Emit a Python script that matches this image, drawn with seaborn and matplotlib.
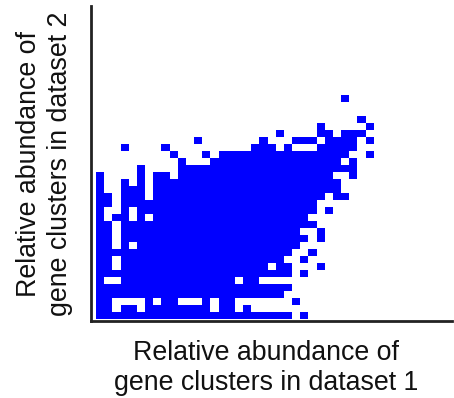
import numpy as np
import matplotlib
matplotlib.use("Agg")
import matplotlib.pyplot as plt
from matplotlib.colors import ListedColormap
import seaborn as sns

# Occupied bins of the 2-D abundance histogram, top row first ('#' = occupied).
rows = [
    ".........." ".........." ".........." "#...",
    ".........." ".........." ".........." "....",
    ".........." ".........." ".........." "....",
    ".........." ".........." ".........." "..#.",
    ".........." ".........." ".......#.." "...#",
    ".........." ".........." "..#....##." "###.",
    ".........." "..#......." "#...###.##" "##.#",
    "...#....#." ".........#" "##.#...###" "##..",
    ".........#" "...#.#####" "##########" "#..#",
    ".........." "#...######" "##########" ".#..",
    ".....#...." "##########" "##########" "##..",
    "#....#.##." "##########" "#########." ".#..",
    "#..#.#.###" "##########" "##########" "....",
    "#..###.###" "##########" "##########" "....",
    "##.###.###" "##########" "########.#" "#...",
    "##.#######" "##########" "#######..." "....",
    "#..#.#####" "##########" "#######.#." "....",
    "#.##.#.###" "##########" "######...." "....",
    "##.#######" "##########" "#######..." "....",
    "##.#######" "##########" "#####..#.." "....",
    "##.#######" "##########" "######.#.." "....",
    "##.#.#####" "##########" "#####....." "....",
    "##########" "##########" "####..#..." "....",
    "##.#######" "##########" "###..#...." "....",
    "##.#######" "##########" "#.##...#.." "....",
    "##########" "##########" "####.#...." "....",
    "#..#######" "#######.##" ".........." "....",
    "##########" "##########" "####......" "....",
    "##########" "##########" "###......." "....",
    "##....#.##" "...#.##..." "....#....." "....",
    "##.##.####" "####.##.#." ".........." "....",
    "##########" "##########" "####.#...." "....",
]

x_label = "Relative abundance of\ngene clusters in dataset 1"
y_label = "Relative abundance of\ngene clusters in dataset 2"
bin_color = "#0000ff"

occupied = np.array([[ch == "#" for ch in r] for r in rows], dtype=float)
n_rows, n_cols = occupied.shape

sns.set_theme(style="white")
plt.rcParams["font.family"] = ["Liberation Sans", "DejaVu Sans"]

W, H = 454, 398
fig = plt.figure(figsize=(W / 100, H / 100), dpi=100)
ax = fig.add_axes([91.3 / W, 1 - 321.3 / H, (452 - 91.3) / W, (321.3 - 6) / H])

sns.heatmap(
    occupied,
    mask=occupied == 0,
    cmap=ListedColormap([bin_color]),
    cbar=False,
    xticklabels=False,
    yticklabels=False,
    linewidths=0,
    ax=ax,
)

# Leave empty room to the right of and above the occupied bins.
cell_w = 8.17
cell_h = 6.97
ax.set_xlim(-(96 - 91.3) / cell_w, (452 - 96) / cell_w)
ax.set_ylim(n_rows + (321.3 - 318.5) / cell_h, n_rows - (318.5 - 6) / cell_h)

for side in ["top", "right"]:
    ax.spines[side].set_visible(False)
for side in ["left", "bottom"]:
    ax.spines[side].set_visible(True)
    ax.spines[side].set_color("#222222")
    ax.spines[side].set_linewidth(2.0)
ax.tick_params(length=0)

ax.set_xlabel(x_label, fontsize=19.3, color="#111111", linespacing=1.17)
ax.set_ylabel(y_label, fontsize=19.3, color="#111111", linespacing=1.25)
ax.xaxis.set_label_coords(0.484, -0.06, transform=ax.transAxes)
ax.xaxis.label.set_va("top")
ax.yaxis.set_label_coords(-0.05, 0.5, transform=ax.transAxes)
ax.yaxis.label.set_va("bottom")

fig.savefig("out.png", dpi=100, facecolor="white")
